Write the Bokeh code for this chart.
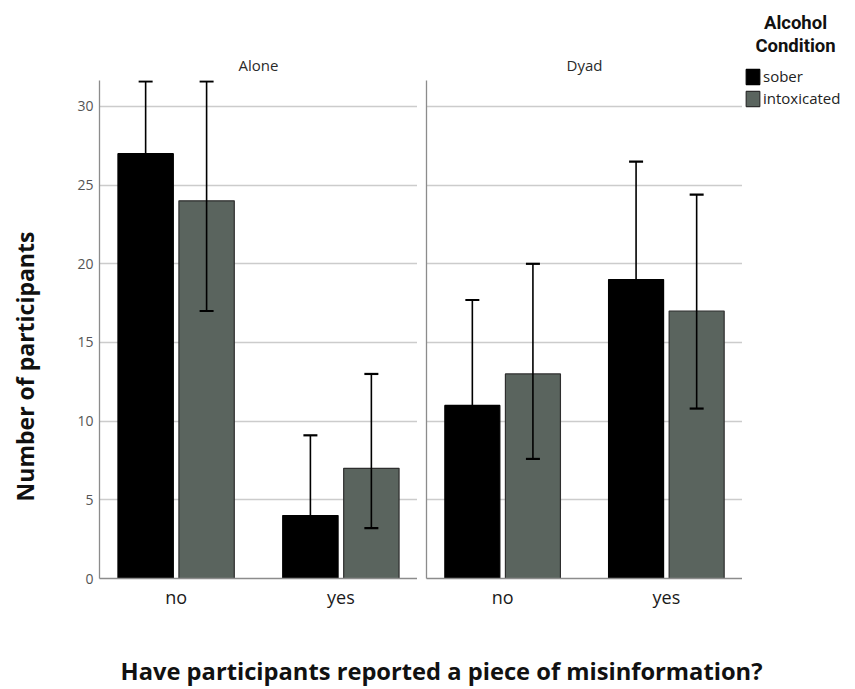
import math
from bokeh.plotting import figure
from bokeh.models import (FactorRange, Range1d, ColumnDataSource, Whisker, TeeHead,
                          Legend, LegendItem, Label, FixedTicker)
from bokeh.transform import dodge
from bokeh.layouts import row, column
from bokeh.embed import file_html
from bokeh.resources import INLINE

# ---------------- data ----------------
answers = ["no", "yes"]
panels = ["Alone", "Dyad"]
conditions = ["sober", "intoxicated"]
y_ticks = [0, 5, 10, 15, 20, 25, 30]

alone_sober = [27, 4]
alone_sober_hi = [31.6, 9.1]
alone_sober_lo = [22.4, 1.3]
alone_intox = [24, 7]
alone_intox_hi = [31.6, 13.0]
alone_intox_lo = [17.0, 3.2]

dyad_sober = [11, 19]
dyad_sober_hi = [17.7, 26.5]
dyad_sober_lo = [6.3, 11.6]
dyad_intox = [13, 17]
dyad_intox_hi = [20.0, 24.4]
dyad_intox_lo = [7.6, 10.8]

x_title = "Have participants reported a piece of misinformation?"
y_title = "Number of participants"
legend_title = ["Alcohol", "Condition"]

# ---------------- styles ----------------
fill_colors = ["#000000", "#5a645e"]
line_colors = ["#000000", "#2e2e2e"]
offsets = [-0.185, 0.185]
BAR_W = 0.336
FONT = "Open Sans"
AXIS_COLOR = "#8c8c8c"
GRID_COLOR = "#cccccc"
ROW_H = 618

series = {
    "Alone": [(alone_sober, alone_sober_lo, alone_sober_hi),
              (alone_intox, alone_intox_lo, alone_intox_hi)],
    "Dyad": [(dyad_sober, dyad_sober_lo, dyad_sober_hi),
             (dyad_intox, dyad_intox_lo, dyad_intox_hi)],
}


def blank(width, height):
    f = figure(width=width, height=height, x_range=(0, 1), y_range=(0, 1),
               toolbar_location=None, output_backend="svg", min_border=0)
    f.axis.visible = False
    f.grid.visible = False
    f.outline_line_color = None
    f.frame_align = False
    return f


def make_panel(name, first):
    p = figure(
        x_range=FactorRange(factors=answers, range_padding=-0.035,
                            range_padding_units="absolute"),
        y_range=Range1d(0, 31.65),
        frame_width=318 if first else 316,
        frame_height=498,
        min_border_left=49 if first else 9,
        min_border_right=0,
        min_border_top=80,
        min_border_bottom=ROW_H - 80 - 498,
        toolbar_location=None,
        output_backend="svg",
    )
    p.outline_line_color = None

    p.title.text = name
    p.title.align = "center"
    p.title.text_font = FONT
    p.title.text_font_size = "15px"
    p.title.text_font_style = "normal"
    p.title.text_color = "#2a2a2a"
    p.title.standoff = 12

    p.xgrid.visible = False
    p.ygrid.ticker = FixedTicker(ticks=y_ticks)
    p.ygrid.grid_line_color = GRID_COLOR
    p.ygrid.grid_line_width = 1.5
    p.yaxis.ticker = FixedTicker(ticks=y_ticks if first else [])
    p.yaxis.minor_tick_line_color = None
    p.yaxis.major_tick_out = 0
    p.yaxis.major_tick_in = 0
    p.yaxis.axis_line_color = AXIS_COLOR
    p.yaxis.axis_line_width = 1.3
    p.yaxis.major_label_text_font = FONT
    p.yaxis.major_label_text_font_size = "14px"
    p.yaxis.major_label_text_color = "#555555"
    p.yaxis.major_label_standoff = 6

    p.xaxis.major_tick_out = 0
    p.xaxis.major_tick_in = 0
    p.xaxis.axis_line_color = AXIS_COLOR
    p.xaxis.axis_line_width = 1.3
    p.xaxis.major_label_text_font = FONT
    p.xaxis.major_label_text_font_size = "18px"
    p.xaxis.major_label_text_color = "#1a1a1a"
    p.xaxis.major_label_standoff = 6

    for i, cond in enumerate(conditions):
        vals, lo, hi = series[name][i]
        src = ColumnDataSource(dict(x=answers, top=vals, lower=lo, upper=hi))
        p.vbar(x=dodge("x", offsets[i], range=p.x_range), top="top",
               width=BAR_W, source=src, fill_color=fill_colors[i],
               line_color=line_colors[i], line_width=1.2)
        w = Whisker(base=dodge("x", offsets[i], range=p.x_range),
                    upper="upper", lower="lower", source=src,
                    line_color="black", line_width=1.6, level="annotation",
                    upper_head=TeeHead(size=14, line_width=2.2, line_color="black"),
                    lower_head=TeeHead(size=14, line_width=2.2, line_color="black"))
        p.add_layout(w)
    return p


p1 = make_panel("Alone", True)
p2 = make_panel("Dyad", False)

# left strip: y axis title
p0 = blank(50, ROW_H)
p0.add_layout(Label(x=24, y=ROW_H - 366, x_units="screen", y_units="screen",
                    text=y_title, angle=math.pi / 2, text_align="center",
                    text_baseline="middle", text_font=FONT,
                    text_font_style="bold", text_font_size="23px",
                    text_color="#111111"))

# right strip: legend (hidden proxy renderers carry the swatch styles)
p4 = blank(855 - 742, ROW_H)
legend_renderers = []
for i, cond in enumerate(conditions):
    proxy = ColumnDataSource(dict(x=list(range(len(answers))), top=series["Dyad"][i][0]))
    legend_renderers.append(p4.vbar(x="x", top="top", width=0.1, source=proxy,
                                    fill_color=fill_colors[i],
                                    line_color=line_colors[i], line_width=1.2,
                                    visible=False))
legend = Legend(items=[LegendItem(label=c, renderers=[r])
                       for c, r in zip(conditions, legend_renderers)],
                location=(2, ROW_H - 108), orientation="vertical", padding=0, margin=0,
                spacing=2, glyph_width=17, glyph_height=19, label_standoff=2,
                label_height=20, click_policy="none",
                label_text_font=FONT, label_text_font_size="15px",
                label_text_color="#222222", border_line_color=None,
                background_fill_alpha=0)
p4.add_layout(legend)
for k, t in enumerate(legend_title):
    p4.add_layout(Label(x=53, y=ROW_H - 22 - 23 * k, x_units="screen", y_units="screen",
                        text=t, text_align="center", text_baseline="middle",
                        text_font="Roboto", text_font_style="bold",
                        text_font_size="18.5px", text_color="#111111"))

# bottom strip: shared x title
p3 = blank(855, 689 - ROW_H)
p3.add_layout(Label(x=441, y=689 - 670, x_units="screen", y_units="screen",
                    text=x_title, text_align="center", text_baseline="middle",
                    text_font=FONT, text_font_style="bold", text_font_size="23.7px",
                    text_color="#111111"))

layout = column(row(p0, p1, p2, p4), p3)
open("out.html", "w").write(file_html(layout, INLINE))
